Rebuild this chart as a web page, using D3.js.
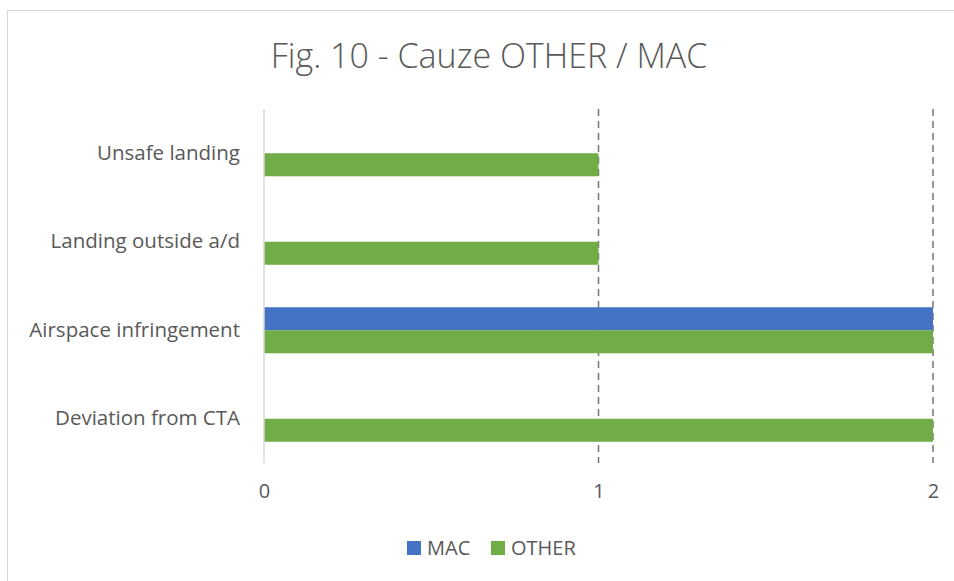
<!DOCTYPE html>
<html>
<head>
<meta charset="utf-8">
<script src="https://cdn.jsdelivr.net/npm/d3@7"></script>
<style>
  body { margin: 0; background: #fff; }
  text { font-family: "Open Sans", "Liberation Sans", sans-serif; fill: #595959; }
</style>
</head>
<body>
<div id="chart"></div>
<script>
const categories = ["Unsafe landing", "Landing outside a/d", "Airspace infringement", "Deviation from CTA"];
const seriesNames = ["MAC", "OTHER"];
const macValues = [0, 0, 2, 0];
const otherValues = [1, 1, 2, 2];
const tickValues = [0, 1, 2];
const colors = { MAC: "#4472c4", OTHER: "#70ad47" };

const W = 954, H = 581;
const margin = { top: 109, right: 21, bottom: 118, left: 264 };
const width = W - margin.left - margin.right;
const height = H - margin.top - margin.bottom;

const rows = categories.map((c, i) => ({ cat: c, MAC: macValues[i], OTHER: otherValues[i] }));

const svg = d3.select("#chart")
  .append("svg")
  .attr("width", W)
  .attr("height", H);

// chart frame
svg.append("rect")
  .attr("x", 7.5).attr("y", 10.5)
  .attr("width", W + 10).attr("height", H + 10)
  .attr("fill", "none")
  .attr("stroke", "#d9d9d9");

svg.append("text")
  .attr("x", 489)
  .attr("y", 68)
  .attr("text-anchor", "middle")
  .style("font-size", "34px")
  .style("font-weight", "300")
  .text("Fig. 10 - Cauze OTHER / MAC");

const g = svg.append("g")
  .attr("transform", `translate(${margin.left},${margin.top})`);

const x = d3.scaleLinear().domain([0, 2]).range([0, width]);
const y0 = d3.scaleBand().domain(categories).range([0, height]).paddingInner(0.48).paddingOuter(0.24);
const y1 = d3.scaleBand().domain(seriesNames).range([0, y0.bandwidth()]);

// gridlines
g.selectAll(".grid")
  .data(tickValues.filter(t => t > 0))
  .enter()
  .append("line")
  .attr("x1", d => x(d)).attr("x2", d => x(d))
  .attr("y1", 0).attr("y2", height)
  .attr("stroke", "#767676")
  .attr("stroke-width", 1.5)
  .attr("stroke-dasharray", "7,5");

// bars
g.selectAll(".group")
  .data(rows)
  .enter()
  .append("g")
  .attr("transform", d => `translate(0,${y0(d.cat)})`)
  .selectAll("rect")
  .data(d => seriesNames.map(s => ({ s, v: d[s] })))
  .enter()
  .append("rect")
  .attr("x", x(0))
  .attr("y", d => y1(d.s))
  .attr("width", d => x(d.v) - x(0))
  .attr("height", y1.bandwidth())
  .attr("fill", d => colors[d.s]);

// zero axis
g.append("line")
  .attr("x1", x(0)).attr("x2", x(0))
  .attr("y1", 0).attr("y2", height)
  .attr("stroke", "#d9d9d9")
  .attr("stroke-width", 1.5);

// x tick labels
const xAxis = g.append("g")
  .attr("transform", `translate(0,${height})`)
  .call(d3.axisBottom(x).tickValues(tickValues).tickFormat(d3.format("d")).tickSize(0).tickPadding(21));
xAxis.select(".domain").remove();
xAxis.selectAll("text").style("font-size", "20px").attr("fill", "#595959");

// category labels
const yAxis = g.append("g")
  .call(d3.axisLeft(y0).tickSize(0).tickPadding(24));
yAxis.select(".domain").remove();
yAxis.selectAll("text")
  .style("font-size", "20.5px")
  .attr("fill", "#595959");

// legend
const legend = svg.append("g").attr("transform", "translate(407,548)");
const items = legend.selectAll("g")
  .data(seriesNames)
  .enter()
  .append("g")
  .attr("transform", (d, i) => `translate(${i * 84},0)`);
items.append("rect")
  .attr("x", 0).attr("y", -7)
  .attr("width", 14).attr("height", 14)
  .attr("fill", d => colors[d]);
items.append("text")
  .attr("x", 20).attr("y", 0)
  .attr("dy", "0.35em")
  .style("font-size", "20px")
  .text(d => d);
</script>
</body>
</html>
